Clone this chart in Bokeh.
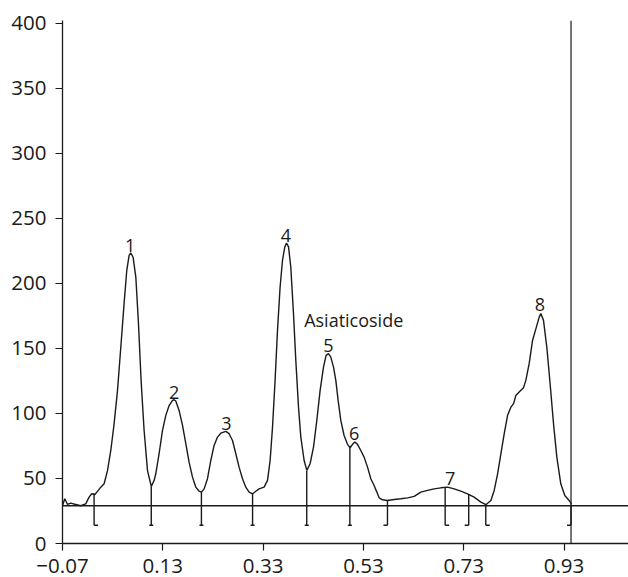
from bokeh.plotting import figure
from bokeh.models import Span, FixedTicker
from bokeh.core.properties import value
from bokeh.embed import file_html
from bokeh.resources import INLINE

# --- densitometric scan (Rf vs. response) ---
rf = [-0.070, -0.0654, -0.0600, -0.0535, -0.0435, -0.0335, -0.0237, -0.0170, -0.0116, -0.0050,
      0.0000, 0.0064, 0.0130, 0.0197, 0.0263, 0.0329, 0.0397, 0.0463, 0.0528, 0.0582,
      0.0628, 0.0662, 0.0708, 0.0762, 0.0815, 0.0867, 0.0927, 0.0995, 0.1071, 0.1127,
      0.1160, 0.1226, 0.1294, 0.1360, 0.1426, 0.1494, 0.1525, 0.1559, 0.1625, 0.1693,
      0.1759, 0.1824, 0.1892, 0.1958, 0.2024, 0.2072, 0.2124, 0.2191, 0.2257, 0.2323,
      0.2391, 0.2457, 0.2556, 0.2622, 0.2690, 0.2756, 0.2821, 0.2889, 0.2955, 0.3021,
      0.3089, 0.3155, 0.3220, 0.3320, 0.3388, 0.3440, 0.3488, 0.3539, 0.3587, 0.3639,
      0.3687, 0.3733, 0.3767, 0.3807, 0.3852, 0.3906, 0.3952, 0.4006, 0.4052, 0.4118,
      0.4172, 0.4237, 0.4305, 0.4371, 0.4437, 0.4504, 0.4556, 0.4604, 0.4650, 0.4704,
      0.4750, 0.4796, 0.4849, 0.4915, 0.4983, 0.5035, 0.5083, 0.5129, 0.5182, 0.5248,
      0.5314, 0.5382, 0.5448, 0.5514, 0.5568, 0.5614, 0.5682, 0.5781, 0.5913, 0.6047,
      0.6180, 0.6312, 0.6445, 0.6579, 0.6710, 0.6844, 0.6977, 0.7109, 0.7243, 0.7376,
      0.7508, 0.7643, 0.7743, 0.7842, 0.7908, 0.7976, 0.8042, 0.8108, 0.8175, 0.8241,
      0.8295, 0.8340, 0.8406, 0.8493, 0.8539, 0.8605, 0.8672, 0.8739, 0.8805, 0.8838,
      0.8891, 0.8957, 0.9023, 0.9091, 0.9157, 0.9236, 0.9316, 0.9402, 0.9450]
signal = [29.2, 34.4, 30.0, 31.0, 30.0, 29.0, 30.5, 35.6, 38.2, 37.7,
          40.3, 43.3, 45.9, 56.0, 71.5, 92.0, 117.7, 151.0, 184.4, 210.0,
          221.5, 223.3, 220.0, 204.8, 169.0, 125.4, 87.0, 56.0, 43.8, 48.5,
          53.6, 69.0, 87.0, 98.5, 106.0, 110.0, 110.5, 109.5, 102.3, 90.8,
          76.7, 62.5, 51.0, 43.3, 40.2, 39.5, 42.0, 49.8, 63.8, 75.4,
          81.8, 84.8, 86.2, 84.4, 79.2, 69.0, 58.7, 49.8, 43.3, 39.5,
          38.2, 40.2, 42.0, 43.3, 48.5, 63.8, 89.5, 125.4, 163.8, 197.2,
          217.7, 228.0, 231.0, 228.0, 212.5, 176.7, 140.8, 104.8, 81.8, 63.8,
          56.2, 61.3, 74.0, 94.6, 117.7, 135.6, 144.6, 145.9, 143.3, 135.6,
          125.4, 110.0, 94.6, 83.0, 76.2, 73.6, 76.2, 78.0, 76.2, 71.5,
          66.4, 58.7, 49.8, 44.6, 39.5, 35.1, 33.6, 33.1, 33.8, 34.4,
          35.1, 36.2, 39.5, 40.8, 42.0, 42.8, 43.3, 42.0, 40.2, 38.2,
          35.6, 31.8, 29.8, 33.0, 40.8, 53.6, 69.0, 84.4, 98.5, 104.8,
          107.5, 113.8, 116.4, 119.8, 125.4, 138.2, 156.0, 165.0, 174.0, 176.7,
          171.5, 151.0, 122.8, 92.0, 66.4, 45.9, 36.9, 33.1, 30.5]

baseline_level = 29
front_rf = 0.944

# integration boundary markers
marker_rf = [-0.007, 0.107, 0.207, 0.309, 0.417, 0.503, 0.578, 0.693, 0.740, 0.774, 0.944]
marker_top = [38.5, 43.8, 39.5, 38.2, 56.0, 73.6, 33.1, 43.0, 38.0, 29.8, 30.0]
marker_foot = ["right", "both", "both", "both", "both", "both", "left", "right", "left", "right", "left"]
marker_bottom = 14

# peak labels
peak_names = ["1", "2", "3", "4", "5", "6", "7", "8"]
peak_x = [0.0648, 0.1525, 0.257, 0.3753, 0.4604, 0.5115, 0.703, 0.882]
peak_y = [229.2, 115.9, 92.0, 236.9, 152.3, 84.4, 49.8, 183.8]
compound_name = "Asiaticoside"
compound_x = 0.4118
compound_y = 172.0

x_ticks = [-0.07, 0.13, 0.33, 0.53, 0.73, 0.93]
x_tick_labels = ["\u22120.07", "0.13", "0.33", "0.53", "0.73", "0.93"]
y_ticks = [0, 50, 100, 150, 200, 250, 300, 350, 400]

INK = "#1a1a1a"
FONT = "Open Sans"

p = figure(width=628, height=577, output_backend="svg", toolbar_location=None,
           x_range=(-0.07, 1.0586), y_range=(0, 402),
           min_border_left=62, min_border_right=0, min_border_top=20, min_border_bottom=34)
p.outline_line_color = None
p.xgrid.visible = False
p.ygrid.visible = False
p.background_fill_color = "white"
p.border_fill_color = "white"

for ax in (p.xaxis, p.yaxis):
    ax.axis_line_color = INK
    ax.axis_line_width = 1.3
    ax.major_tick_line_color = INK
    ax.major_tick_line_width = 1.2
    ax.major_tick_out = 7
    ax.major_tick_in = 0
    ax.minor_tick_line_color = None
    ax.major_label_text_font = FONT
    ax.major_label_text_font_size = "20.5px"
    ax.major_label_text_color = INK

p.xaxis.ticker = FixedTicker(ticks=x_ticks)
p.xaxis.major_label_overrides = {t: l for t, l in zip(x_ticks, x_tick_labels)}
p.xaxis.major_label_standoff = 8
p.yaxis.ticker = FixedTicker(ticks=y_ticks)
p.yaxis.major_label_standoff = 9

# baseline and solvent front
p.add_layout(Span(location=baseline_level, dimension="width", line_color=INK, line_width=1.4))
p.add_layout(Span(location=front_rf, dimension="height", line_color=INK, line_width=1.2))

# trace
p.line(rf, signal, line_color=INK, line_width=1.4)

# markers
p.segment(x0=marker_rf, y0=marker_top, x1=marker_rf, y1=[marker_bottom] * len(marker_rf),
          line_color=INK, line_width=1.4)
foot_w = 0.008
fx0, fx1 = [], []
for x, f in zip(marker_rf, marker_foot):
    if f == "both":
        fx0.append(x - foot_w / 2); fx1.append(x + foot_w / 2)
    elif f == "left":
        fx0.append(x - foot_w); fx1.append(x)
    else:
        fx0.append(x); fx1.append(x + foot_w)
p.segment(x0=fx0, y0=[marker_bottom] * len(fx0), x1=fx1, y1=[marker_bottom] * len(fx1),
          line_color=INK, line_width=1.6)

p.text(x=peak_x, y=peak_y, text=peak_names, text_align="center", text_baseline="alphabetic",
       text_font=value(FONT), text_font_size="18px", text_color=INK)
p.text(x=[compound_x], y=[compound_y], text=[compound_name], text_align="left",
       text_baseline="alphabetic", text_font=value(FONT), text_font_size="18px", text_color=INK)

open("out.html", "w").write(file_html(p, INLINE))
